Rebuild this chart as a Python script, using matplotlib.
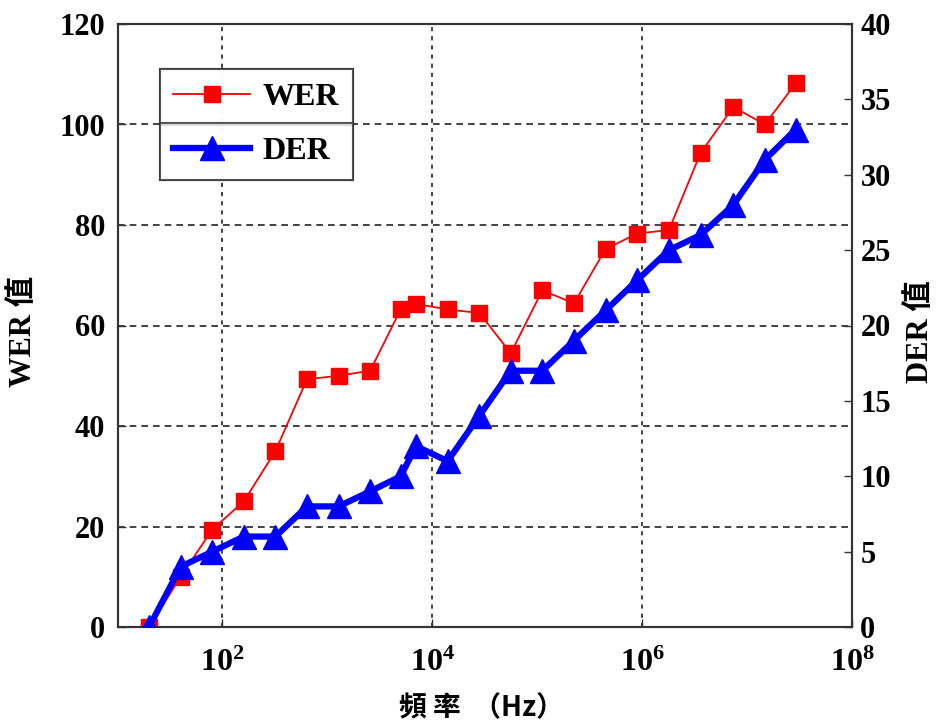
import matplotlib
matplotlib.use("Agg")
import matplotlib.pyplot as plt
from matplotlib.ticker import FixedLocator, NullLocator, FixedFormatter

plt.rcParams['mathtext.fontset'] = 'custom'
plt.rcParams['mathtext.rm'] = 'Liberation Serif:bold'
plt.rcParams['mathtext.bf'] = 'Liberation Serif:bold'
plt.rcParams['mathtext.it'] = 'Liberation Serif:bold'

# ---- data ----
freq = [20, 40, 80, 160, 320, 640, 1280, 2560, 5000, 7000, 14000, 28000,
        56000, 112000, 224000, 448000, 896000, 1.8e6, 3.6e6, 7.4e6, 1.48e7, 2.9e7]
wer = [0, 10, 19.4, 25, 35, 49.3, 50, 51, 63.2, 64.3, 63.2, 62.5,
       54.5, 67, 64.4, 75.2, 78.3, 79, 94.3, 103.5, 100, 108.2]
der = [0, 4, 5, 6, 6, 8, 8, 9, 10, 12, 11, 14,
       17, 17, 19, 21, 23, 25, 26, 28, 31, 33]

x_ticks = [1e2, 1e4, 1e6, 1e8]
x_ticklabels = [r'$\mathbf{10^{2}}$', r'$\mathbf{10^{4}}$',
                r'$\mathbf{10^{6}}$', r'$\mathbf{10^{8}}$']
wer_ticks = [0, 20, 40, 60, 80, 100, 120]
der_ticks = [0, 5, 10, 15, 20, 25, 30, 35, 40]

W, H = 938, 723
fig = plt.figure(figsize=(W / 100, H / 100), dpi=100)
L, R, T, B = 117.5, 852, 24, 627
ax = fig.add_axes([L / W, 1 - B / H, (R - L) / W, (B - T) / H])
ax2 = ax.twinx()

ln1, = ax.plot(freq, wer, color='#ff0000', lw=1.3, marker='s', ms=12,
               mec='#ff0000', mfc='#ff0000', label='WER', zorder=3)
ln2, = ax2.plot(freq, der, color='#0000ff', lw=4.5, marker='^', ms=17,
                mec='#0000ff', mfc='#0000ff', label='DER', zorder=3)

ax.set_xscale('log')
ax.set_xlim(10, 1e8)
ax.set_ylim(0, 120)
ax2.set_ylim(0, 40)

ax.xaxis.set_major_locator(FixedLocator(x_ticks))
ax.xaxis.set_major_formatter(FixedFormatter(x_ticklabels))
ax.xaxis.set_minor_locator(NullLocator())
ax.set_yticks(wer_ticks)
ax2.set_yticks(der_ticks)

for a in (ax, ax2):
    for s in a.spines.values():
        s.set_color('#333333')
        s.set_linewidth(1.5)

ax.tick_params(axis='both', direction='in', length=6, width=1, colors='#333333',
               labelcolor='black', labelsize=22)
ax.tick_params(axis='y', pad=9)
ax.tick_params(axis='x', pad=16, labelsize=23)
ax2.tick_params(axis='y', direction='in', length=6, width=1, colors='#333333',
                labelcolor='black', labelsize=22, pad=6)
for lab in ax.get_yticklabels() + ax2.get_yticklabels() + ax.get_xticklabels():
    lab.set_fontfamily('Liberation Serif')
    lab.set_fontweight('bold')

# grid
for yv in wer_ticks[1:-1]:
    ax.axhline(yv, color='#222222', lw=1.2, ls=(0, (4, 3)), zorder=1)
for xv in x_ticks[:-1]:
    ax.axvline(xv, color='#222222', lw=1.2, ls=(0, (2.5, 3)), zorder=1)

# labels
ax.set_ylabel('WER 值', fontsize=22, fontweight='bold',
              family=['Liberation Serif', 'Noto Sans CJK TC'])
ax2.set_ylabel('DER 值', fontsize=22, fontweight='bold',
               family=['Liberation Serif', 'Noto Sans CJK TC'])
ax.set_xlabel('頻 率  （Hz）', fontsize=20, fontweight='bold',
              family=['Noto Sans CJK TC', 'DejaVu Sans'])
ax.yaxis.set_label_coords((38 - L) / (R - L), 0.49)
ax2.yaxis.set_label_coords((906 - L) / (R - L), 0.49)
ax.xaxis.set_label_coords((481 - L) / (R - L), (B - 694) / (B - T))

ax2.set_zorder(ax.get_zorder() + 1)
ax2.patch.set_visible(False)

# legends (two stacked boxes, as in the reference)
lx0, lx1 = 160, 353
for line, (ytop, ybot) in ((ln1, (70, 124)), (ln2, (124, 179))):
    leg = fig.legend(handles=[line], loc='center left',
                     bbox_to_anchor=(lx0 / W, 1 - ybot / H, (lx1 - lx0) / W, (ybot - ytop) / H),
                     mode='expand', borderaxespad=0, borderpad=0.42,
                     handlelength=2.4, handletextpad=0.4, fancybox=False,
                     prop={'family': 'Liberation Serif', 'weight': 'bold', 'size': 23})
    leg.get_frame().set_edgecolor('#333333')
    leg.get_frame().set_linewidth(1.5)
    leg.set_zorder(10)
    fig.add_artist(leg)

fig.savefig('out.png', dpi=100)
